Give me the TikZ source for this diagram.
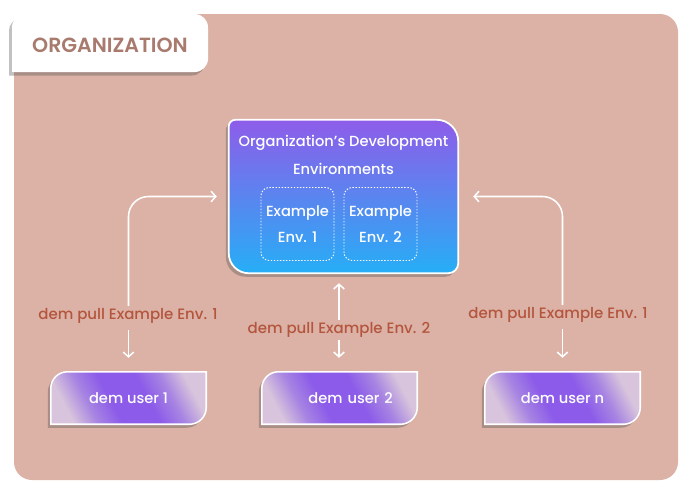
\documentclass[tikz,border=0pt]{standalone}
\usepackage{fontspec}
\setmainfont{Poppins}[UprightFont=* Medium, BoldFont=* SemiBold]
\usetikzlibrary{positioning,arrows.meta,shadows,backgrounds}

\definecolor{orgbg}{HTML}{DCB2A6}
\definecolor{orgtext}{HTML}{A97A6E}
\definecolor{pullred}{HTML}{B4553D}
\definecolor{envtop}{HTML}{8E5CE9}
\definecolor{envbottom}{HTML}{26AEF6}
\definecolor{userpurple}{HTML}{8C5BE9}
\definecolor{usermid}{HTML}{A784E2}
\definecolor{userlight}{HTML}{D8C4DC}

\pgfdeclareverticalshading{userglow}{100bp}{color(0bp)=(userlight); color(25bp)=(userlight); color(34bp)=(usermid);
  color(43bp)=(userpurple); color(57bp)=(userpurple); color(66bp)=(usermid); color(75bp)=(userlight); color(100bp)=(userlight)}

\tikzset{
  softshadow/.style = {drop shadow={shadow xshift=-2.5pt, shadow yshift=-3pt, opacity=0.35, fill=black!70}},
  envbox/.style = {draw=white, line width=0.8pt, dash pattern=on 1.2pt off 1.4pt, rounded corners=0.25cm, minimum width=2.19cm, minimum height=2.19cm,
                   text=white, align=center, font=\fontsize{12.5}{24}\selectfont},
  userbox/.style = {minimum width=4.65cm, minimum height=1.56cm, text=white, font=\fontsize{12.5}{14}\selectfont},
  userbody/.style = {draw=white, line width=1.3pt, softshadow, shading=userglow, shading angle=-62},
  pulllabel/.style = {text=pullred, font=\fontsize{12.8}{14}\selectfont, inner sep=2pt},
  pullarrow/.style = {draw=white, line width=1.3pt, -{Straight Barb[length=4pt, width=9pt]}}
}

\begin{document}
\begin{tikzpicture}[x=0.03cm, y=-0.03cm]
  \useasboundingbox (0,0) rectangle (691,496);

  % development environments
  \node[minimum width=6.87cm, minimum height=4.59cm] (devenv) at (343.5,196.5) {};
  \node[text=white, align=center, font=\fontsize{12.5}{24}\selectfont, below=0.34cm of devenv.north] (devtitle)
        {Organization’s Development\\Environments};
  \node[envbox] (env1) at (297.5,224) {Example\\[-2pt]Env. 1};
  \node[envbox] (env2) at (380.5,224) {Example\\[-2pt]Env. 2};

  % users
  \node[userbox] (user1) at (128.5,398) {dem user 1};
  \node[userbox, text width=3.2cm, align=right] (user2) at (339.5,398) {dem user 2};
  \node[userbox] (usern) at (562.5,398) {dem user n};

  \begin{scope}[on background layer]
    % organization area and its tab
    \fill[orgbg, rounded corners=0.54cm] (14,14) rectangle (678,480);
    \path[fill=white, softshadow] (12,72) [rounded corners=0.4cm] -- (12,14) -- (208,14) [sharp corners] -- (208,60)
          [rounded corners=0.4cm] -- (208,72) [sharp corners] -- cycle;
    \path[draw=white, line width=1.5pt, top color=envtop, bottom color=envbottom, softshadow]
      (devenv.south west) [rounded corners=0.2cm] -- (devenv.north west) [rounded corners=0.65cm] -- (devenv.north east)
      [rounded corners=0.3cm] -- (devenv.south east) [rounded corners=0.6cm] -- cycle;
    \foreach \u in {user1,user2,usern}
      \path[userbody] (\u.south west) [rounded corners=0.5cm] -- (\u.north west) [sharp corners] -- (\u.north east)
        [rounded corners=0.5cm] -- (\u.south east) [sharp corners] -- cycle;
  \end{scope}
  \node[text=orgtext, font=\fontsize{17.5}{19}\selectfont\bfseries] (orgtitle) at (110,45) {ORGANIZATION};

  % pull commands
  \node[pulllabel] (pull1) at (128,316) {dem pull Example Env. 1};
  \node[pulllabel] (pull2) at (339,330) {dem pull Example Env. 2};
  \node[pulllabel] (pulln) at (558,315) {dem pull Example Env. 1};

  \draw[pullarrow, rounded corners=0.6cm] (pull1.north -| user1) |- ([xshift=-0.36cm]devenv.west);
  \draw[pullarrow] (pull1.south -| user1) ++(0,4) -- ([yshift=0.42cm]user1.north);
  \draw[pullarrow] (pull2.north) -- ([yshift=-0.3cm]devenv.south -| pull2);
  \draw[pullarrow] (pull2.south) -- ([yshift=0.42cm]user2.north -| pull2);
  \draw[pullarrow, rounded corners=0.6cm] (pulln.north -| usern) |- ([xshift=0.45cm]devenv.east);
  \draw[pullarrow] (pulln.south -| usern) ++(0,4) -- ([yshift=0.42cm]usern.north);
\end{tikzpicture}
\end{document}
